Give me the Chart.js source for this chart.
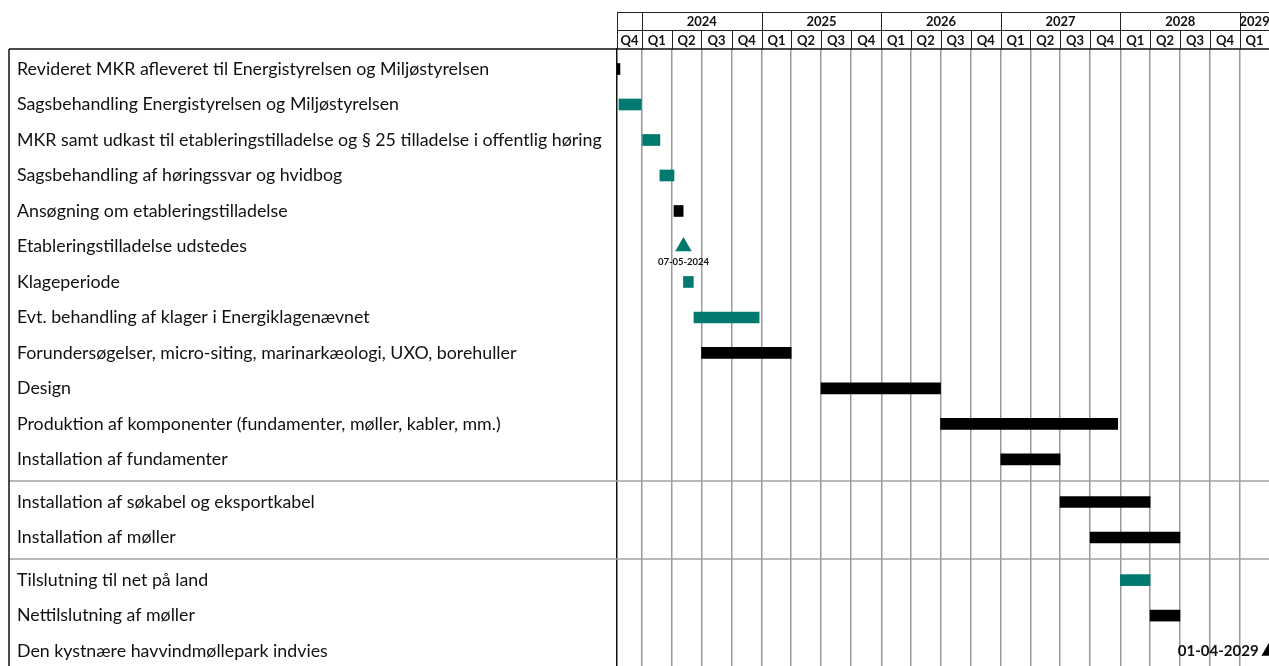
<!DOCTYPE html>
<html>
<head>
<meta charset="utf-8">
<script src="https://cdn.jsdelivr.net/npm/chart.js@4.4.1/dist/chart.umd.min.js"></script>
<style>
  html, body { margin: 0; padding: 0; background: #fff; overflow: hidden; }
  canvas { display: block; }
</style>
</head>
<body>
<canvas id="gantt" width="1269" height="666" style="width:1269px;height:666px"></canvas>
<script>
// ---- Tidsplan: aktiviteter, perioder og milepæle ----
const taskLabels = [
  'Revideret MKR afleveret til Energistyrelsen og Miljøstyrelsen',
  'Sagsbehandling Energistyrelsen og Miljøstyrelsen',
  'MKR samt udkast til etableringstilladelse og § 25 tilladelse i offentlig høring',
  'Sagsbehandling af høringssvar og hvidbog',
  'Ansøgning om etableringstilladelse',
  'Etableringstilladelse udstedes',
  'Klageperiode',
  'Evt. behandling af klager i Energiklagenævnet',
  'Forundersøgelser, micro-siting, marinarkæologi, UXO, borehuller',
  'Design',
  'Produktion af komponenter (fundamenter, møller, kabler, mm.)',
  'Installation af fundamenter',
  'Installation af søkabel og eksportkabel',
  'Installation af møller',
  'Tilslutning til net på land',
  'Nettilslutning af møller',
  'Den kystnære havvindmøllepark indvies'
];
// section each activity belongs to (sections are separated by a rule)
const taskSections = [0,0,0,0,0,0,0,0,0,0,0,0,1,1,2,2,2];

const barStarts = ['2023-10-17','2023-10-23','2024-01-01','2024-02-25','2024-04-08',null,
  '2024-05-07','2024-06-08','2024-07-01','2025-07-01','2026-07-01','2027-01-01',
  '2027-07-01','2027-10-01','2028-01-01','2028-04-01',null];
const barEnds = ['2023-10-26','2024-01-01','2024-02-25','2024-04-08','2024-05-06',null,
  '2024-06-06','2024-12-24','2025-04-01','2026-07-01','2027-12-24','2027-07-01',
  '2028-04-01','2028-07-01','2028-04-01','2028-07-01',null];
const barKinds = ['sort','groen','groen','groen','sort',null,
  'groen','groen','sort','sort','sort','sort',
  'sort','sort','groen','sort',null];

const milestoneRows  = [5, 16];
const milestoneDates = ['2024-05-07', '2029-04-01'];
const milestoneKinds = ['groen', 'sort'];

const yearLabels    = ['2024','2025','2026','2027','2028','2029'];
const quarterLabels = ['Q1','Q2','Q3','Q4'];
const axisFrom = '2023-10-17';
const axisTo   = '2029-03-30';

// ---- helpers ----
const COLORS = { groen: '#00796f', sort: '#000000' };
const FONT = 'Lato, "Open Sans", "DejaVu Sans", sans-serif';
const EPOCH = Date.UTC(2024, 0, 1);
function dayNo(iso) {
  const [y, m, d] = iso.split('-').map(Number);
  return (Date.UTC(y, m - 1, d) - EPOCH) / 86400000;
}
function fmtDate(iso) {
  const [y, m, d] = iso.split('-');
  return d + '-' + m + '-' + y;
}
const SECTION_GAP = 0.2;
const rowPos = taskLabels.map((_, i) => i + taskSections[i] * SECTION_GAP);

const barData = [], barColors = [];
barStarts.forEach((s, i) => {
  if (!s) return;
  barData.push({ x: [dayNo(s), dayNo(barEnds[i])], y: rowPos[i] });
  barColors.push(COLORS[barKinds[i]]);
});
const msData = milestoneDates.map((d, k) => ({ x: dayNo(d), y: rowPos[milestoneRows[k]] }));
const msColors = milestoneKinds.map(k => COLORS[k]);

// quarter starts covering the visible range
const quarterStarts = [];
for (let y = 2023; y <= 2029; y++) {
  for (let q = 0; q < 4; q++) {
    const iso = y + '-' + String(q * 3 + 1).padStart(2, '0') + '-01';
    quarterStarts.push({ year: y, q: q, iso: iso, day: dayNo(iso) });
  }
}

// header (years / quarters), outer frame and section rules
const framePlugin = {
  id: 'frame',
  beforeDatasetsDraw(chart) {
    const { ctx, scales: { y } } = chart;
    ctx.save();
    ctx.strokeStyle = '#a2a2a2';
    ctx.lineWidth = 1.5;
    for (let i = 1; i < rowPos.length; i++) {
      if (taskSections[i] !== taskSections[i - 1]) {
        const py = Math.round(y.getPixelForValue((rowPos[i] + rowPos[i - 1]) / 2));
        ctx.beginPath();
        ctx.moveTo(9, py); ctx.lineTo(chart.width, py);
        ctx.stroke();
      }
    }
    ctx.restore();
  },
  afterDraw(chart) {
    const { ctx, chartArea: ca, scales: { x } } = chart;
    const top = 12, mid = 30, bot = ca.top;
    ctx.save();
    // table frame
    ctx.strokeStyle = '#111';
    ctx.lineWidth = 1.5;
    ctx.beginPath();
    ctx.moveTo(9, bot); ctx.lineTo(chart.width, bot);
    ctx.moveTo(9, bot); ctx.lineTo(9, chart.height);
    ctx.stroke();
    // header grid
    ctx.lineWidth = 1;
    ctx.strokeStyle = '#222';
    ctx.beginPath();
    ctx.moveTo(ca.left, top + 0.5); ctx.lineTo(chart.width, top + 0.5);
    ctx.moveTo(ca.left, mid + 0.5); ctx.lineTo(chart.width, mid + 0.5);
    ctx.moveTo(Math.round(ca.left) + 0.5, top); ctx.lineTo(Math.round(ca.left) + 0.5, bot);
    quarterStarts.forEach(qs => {
      const px = x.getPixelForValue(qs.day);
      if (px <= ca.left + 1 || px >= ca.right - 1) return;
      const ax = Math.round(px) + 0.5;
      ctx.moveTo(ax, qs.q === 0 ? top : mid);
      ctx.lineTo(ax, bot);
    });
    ctx.stroke();

    ctx.fillStyle = '#111';
    ctx.textAlign = 'center';
    ctx.textBaseline = 'middle';
    ctx.font = 'bold 13px ' + FONT;
    // quarter labels
    quarterStarts.forEach((qs, i) => {
      const next = quarterStarts[i + 1];
      const a = Math.max(ca.left, x.getPixelForValue(qs.day));
      const b = Math.min(ca.right, next ? x.getPixelForValue(next.day) : ca.right);
      if (b - a < 10) return;
      ctx.fillText(quarterLabels[qs.q], (a + b) / 2, (mid + bot) / 2 + 1);
    });
    // year labels
    yearLabels.forEach(yl => {
      const a = Math.max(ca.left, x.getPixelForValue(dayNo(yl + '-01-01')));
      const b = Math.min(ca.right, x.getPixelForValue(dayNo((+yl + 1) + '-01-01')));
      if (b - a < 10) return;
      ctx.fillText(yl, (a + b) / 2, (top + mid) / 2 + 1);
    });
    ctx.restore();
  },
  afterDatasetsDraw(chart) {
    const { ctx } = chart;
    const meta = chart.getDatasetMeta(1);
    ctx.save();
    ctx.fillStyle = '#111';
    meta.data.forEach((pt, k) => {
      const txt = fmtDate(milestoneDates[k]);
      if (k === 0) {
        ctx.font = 'bold 9.5px ' + FONT;
        ctx.textAlign = 'center';
        ctx.textBaseline = 'middle';
        ctx.fillText(txt, pt.x, pt.y + 15);
      } else {
        ctx.font = 'bold 15px ' + FONT;
        ctx.textAlign = 'right';
        ctx.textBaseline = 'middle';
        ctx.fillText(txt, pt.x - 11, pt.y);
      }
    });
    ctx.restore();
  }
};

new Chart(document.getElementById('gantt'), {
  type: 'bar',
  data: {
    datasets: [
      {
        type: 'bar',
        data: barData,
        backgroundColor: barColors,
        borderWidth: 0,
        barThickness: 11,
        grouped: false
      },
      {
        type: 'scatter',
        data: msData,
        pointStyle: 'triangle',
        pointRadius: 9.5,
        pointHoverRadius: 9.5,
        backgroundColor: msColors,
        borderColor: msColors,
        borderWidth: 0,
        showLine: false
      }
    ]
  },
  options: {
    indexAxis: 'y',
    responsive: false,
    maintainAspectRatio: false,
    devicePixelRatio: 1,
    animation: false,
    events: [],
    layout: { autoPadding: false, padding: { top: 49, left: 17, right: 0, bottom: 0 } },
    plugins: { legend: { display: false }, tooltip: { enabled: false } },
    scales: {
      x: {
        type: 'linear',
        position: 'bottom',
        min: dayNo(axisFrom),
        max: dayNo(axisTo),
        afterBuildTicks: axis => {
          axis.ticks = quarterStarts
            .filter(q => q.day > dayNo(axisFrom) && q.day < dayNo(axisTo))
            .map(q => ({ value: q.day }));
        },
        ticks: { display: false },
        grid: { display: true, drawTicks: false, color: '#999999', lineWidth: 1.5 },
        border: { display: false }
      },
      y: {
        type: 'linear',
        position: 'left',
        reverse: true,
        offset: false,
        min: -0.5636,
        max: 16.82,
        afterBuildTicks: axis => { axis.ticks = rowPos.map(v => ({ value: v })); },
        afterFit: axis => {
          axis.width = 600;
          axis.paddingTop = 0;
          axis.paddingBottom = 0;
        },
        ticks: {
          autoSkip: false,
          crossAlign: 'far',
          padding: 0,
          color: '#111',
          font: { family: FONT, size: 17.8 },
          callback: (v, i) => taskLabels[i]
        },
        grid: { display: false, drawTicks: false, offset: false },
        border: { display: true, color: '#111', width: 1.5 }
      }
    }
  },
  plugins: [framePlugin]
});
</script>
</body>
</html>
